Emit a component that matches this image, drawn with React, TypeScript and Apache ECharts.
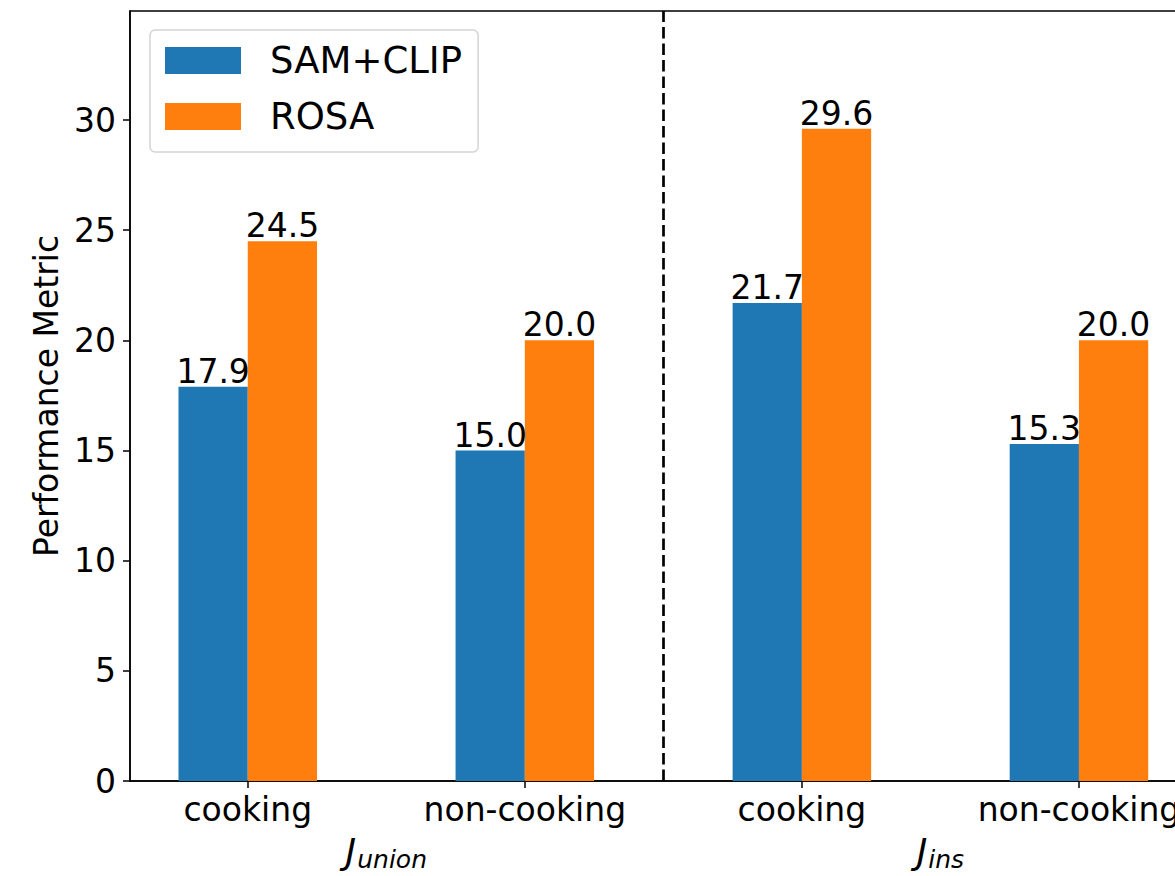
import React, { useEffect, useRef } from "react";
import * as echarts from "echarts";

const categories = ["cooking", "non-cooking", "cooking", "non-cooking"];
const samClip = [17.9, 15.0, 21.7, 15.3];
const rosa = [24.5, 20.0, 29.6, 20.0];
const groupNames = ["union", "ins"];
const groupCenters = [0.5, 2.5];
const yTicks = [0, 5, 10, 15, 20, 25, 30];
const xTicks = [0, 1, 2, 3];
const separatorX = [1.5];

const FONT = "DejaVu Sans";
const BLUE = "#1f77b4";
const ORANGE = "#ff7f0e";
const BAR_W = 0.25;

function makeRender(offset: number) {
  return (params: any, api: any) => {
    const idx = api.value(0);
    const v = api.value(1);
    const p1 = api.coord([idx + offset, v]);
    const p2 = api.coord([idx + offset + BAR_W, 0]);
    return {
      type: "rect",
      shape: { x: p1[0], y: p1[1], width: p2[0] - p1[0], height: p2[1] - p1[1] },
      style: { fill: api.visual("color") },
      textContent: {
        style: { text: v.toFixed(1), fontSize: 33, fontFamily: FONT, fill: "#000" },
      },
      textConfig: { position: "top", distance: -1 },
    };
  };
}

export default function App() {
  const ref = useRef<HTMLDivElement>(null);
  useEffect(() => {
    if (!ref.current) return;
    const chart = echarts.init(ref.current, null, { renderer: "svg" });
    const option: any = {
      animation: false,
      backgroundColor: "#fff",
      grid: {
        left: 130,
        top: 11,
        width: 1066.7,
        height: 770,
        outerBoundsMode: "none",
        containLabel: false,
        show: true,
        borderColor: "#000",
        borderWidth: 1.5,
        backgroundColor: "transparent",
      },
      legend: {
        orient: "vertical",
        left: 150,
        top: 30,
        padding: [12, 16, 17, 15],
        itemWidth: 76,
        itemHeight: 27,
        itemGap: 19,
        icon: "rect",
        borderColor: "#d4d4d4",
        borderWidth: 1.5,
        borderRadius: 5,
        backgroundColor: "rgba(255,255,255,0.8)",
        textStyle: {
          fontSize: 37,
          fontFamily: FONT,
          color: "#000",
          padding: [0, 0, 0, 24],
        },
        data: ["SAM+CLIP", "ROSA"],
      },
      xAxis: [
        {
          type: "value",
          min: -0.425,
          max: 3.425,
          position: "bottom",
          axisLine: { show: true, onZero: false, lineStyle: { color: "#000", width: 1.5 } },
          axisTick: { show: true, customValues: xTicks, length: 7, lineStyle: { color: "#000", width: 1.5 } },
          axisLabel: {
            customValues: xTicks,
            formatter: (v: number) => categories[Math.round(v)],
            fontSize: 33,
            fontFamily: FONT,
            color: "#000",
            margin: 12,
          },
          splitLine: { show: false },
        },
        {
          type: "value",
          min: -0.425,
          max: 3.425,
          position: "bottom",
          offset: 0,
          axisLine: { show: false, onZero: false },
          axisTick: { show: false },
          axisLabel: {
            customValues: groupCenters,
            formatter: (v: number) => "{j|J}{s|" + groupNames[groupCenters.indexOf(v)] + "}",
            margin: 57,
            rich: {
              j: { fontSize: 36, lineHeight: 34, fontStyle: "italic", fontFamily: FONT, color: "#000", verticalAlign: "bottom", padding: [0, 1, 3, 0] },
              s: { fontSize: 25, lineHeight: 30, fontStyle: "italic", fontFamily: FONT, color: "#000", verticalAlign: "bottom" },
            },
          },
          splitLine: { show: false },
        },
      ],
      yAxis: {
        type: "value",
        min: 0,
        max: 34.95,
        name: "Performance Metric",
        nameLocation: "middle",
        nameRotate: 90,
        nameGap: 67,
        nameTextStyle: { fontSize: 33, fontFamily: FONT, color: "#000" },
        axisLine: { show: true, onZero: false, lineStyle: { color: "#000", width: 1.5 } },
        axisTick: { show: true, customValues: yTicks, length: 7, lineStyle: { color: "#000", width: 1.5 } },
        axisLabel: {
          customValues: yTicks,
          fontSize: 33,
          fontFamily: FONT,
          color: "#000",
          margin: 14,
        },
        splitLine: { show: false },
      },
      series: [
        {
          name: "SAM+CLIP",
          type: "custom",
          itemStyle: { color: BLUE },
          encode: { x: 0, y: 1 },
          renderItem: makeRender(-BAR_W),
          data: samClip.map((v, i) => [i, v]),
          markLine: {
            silent: true,
            symbol: ["none", "none"],
            label: { show: false },
            lineStyle: { color: "#000", width: 2.7, type: [11.5, 5] },
            data: separatorX.map((x) => ({ xAxis: x })),
          },
        },
        {
          name: "ROSA",
          type: "custom",
          itemStyle: { color: ORANGE },
          encode: { x: 0, y: 1 },
          renderItem: makeRender(0),
          data: rosa.map((v, i) => [i, v]),
        },
      ],
    };
    chart.setOption(option);
    return () => chart.dispose();
  }, []);
  return (
    <div
      ref={ref}
      style={{ position: "absolute", left: 0, top: 0, width: 1175, height: 876 }}
    />
  );
}
